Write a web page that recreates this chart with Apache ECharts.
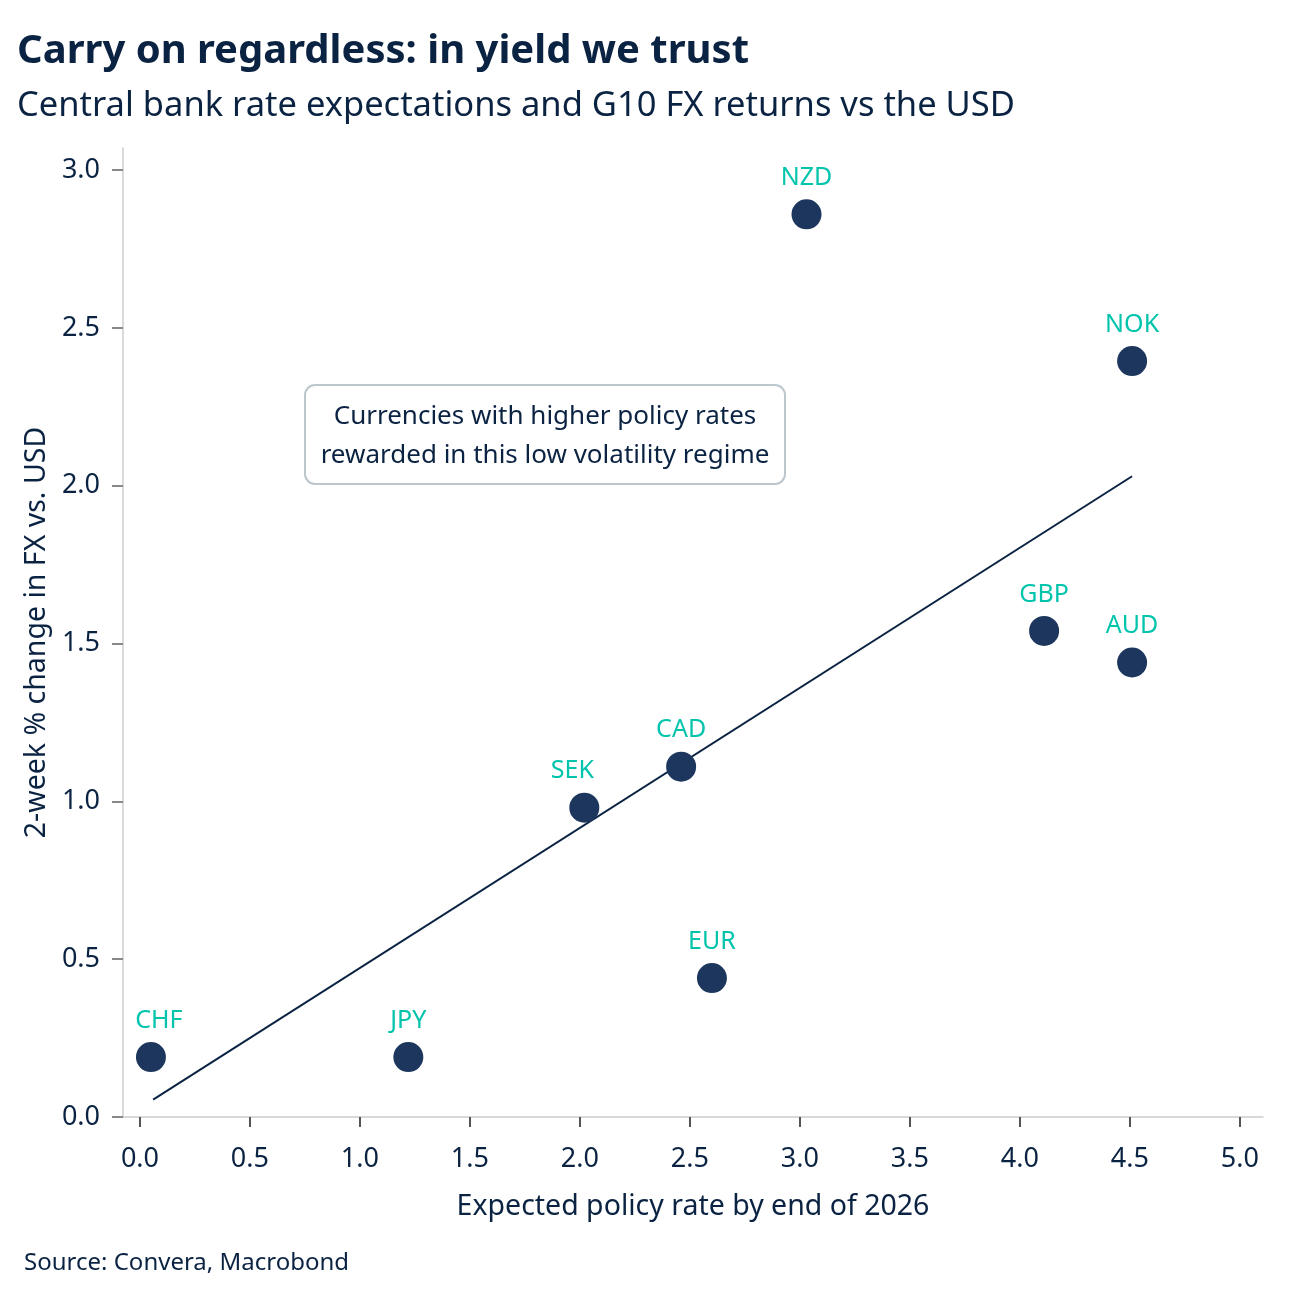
<!DOCTYPE html>
<html>
<head>
<meta charset="utf-8">
<title>Carry on regardless</title>
<script src="https://cdn.jsdelivr.net/npm/echarts@6/dist/echarts.min.js"></script>
<style>
  html, body { margin: 0; padding: 0; background: #fff; }
  #chart { width: 1299px; height: 1301px; }
</style>
</head>
<body>
<div id="chart"></div>
<script>
// currencies and their (expected policy rate, 2-week FX change vs USD)
const currencies = ['NZD', 'NOK', 'GBP', 'AUD', 'CAD', 'SEK', 'EUR', 'CHF', 'JPY']
const policyRate = [3.03, 4.51, 4.11, 4.51, 2.46, 2.02, 2.60, 0.05, 1.22]
const fxChange = [2.86, 2.395, 1.54, 1.44, 1.11, 0.98, 0.44, 0.19, 0.19]

// fitted line end points
const trendX = [0.06, 4.51]
const trendY = [0.055, 2.03]

const xTicks = [0, 0.5, 1, 1.5, 2, 2.5, 3, 3.5, 4, 4.5, 5]
const yTicks = [0, 0.5, 1, 1.5, 2, 2.5, 3]

const navy = '#0b2342'
const dot = '#1c365d'
const teal = '#00c4ac'
const font = '"Noto Sans", "Open Sans", sans-serif'

// a few labels sit a little off-centre in the original
const labelShift = { SEK: -12, CHF: 8 }

const chart = echarts.init(document.getElementById('chart'))

chart.setOption({
  backgroundColor: '#fff',
  textStyle: { fontFamily: font },
  title: [
    {
      text: 'Carry on regardless: in yield we trust',
      left: 12, top: 27,
      textStyle: { fontFamily: font, fontSize: 40, fontWeight: 'bold', color: navy }
    },
    {
      text: 'Central bank rate expectations and G10 FX returns vs the USD',
      left: 12, top: 84,
      textStyle: { fontFamily: font, fontSize: 34.5, fontWeight: 'normal', color: navy }
    },
    {
      text: 'Source: Convera, Macrobond',
      left: 19, top: 1246,
      textStyle: { fontFamily: font, fontSize: 24, fontWeight: 'normal', color: navy }
    }
  ],
  grid: { left: 123, right: 36, top: 148, bottom: 184 },
  xAxis: {
    type: 'value',
    min: -0.077, max: 5.105,
    name: 'Expected policy rate by end of 2026',
    nameLocation: 'middle',
    nameGap: 75,
    nameTextStyle: { fontSize: 28.5, color: navy, fontFamily: font },
    splitLine: { show: false },
    axisLine: { show: true, onZero: false, lineStyle: { color: '#cccccc', width: 1.5 } },
    axisTick: { show: true, length: 10, customValues: xTicks, lineStyle: { color: '#555555', width: 2 } },
    axisLabel: {
      customValues: xTicks,
      margin: 29,
      fontSize: 27,
      color: navy,
      formatter: v => v.toFixed(1)
    }
  },
  yAxis: {
    type: 'value',
    min: 0, max: 3.07,
    name: '2-week % change in FX vs. USD',
    nameLocation: 'middle',
    nameGap: 67,
    nameRotate: 90,
    nameTextStyle: { fontSize: 28.5, color: navy, fontFamily: font },
    splitLine: { show: false },
    axisLine: { show: true, onZero: false, lineStyle: { color: '#cccccc', width: 1.5 } },
    axisTick: { show: true, length: 11, customValues: yTicks, lineStyle: { color: '#888888', width: 2 } },
    axisLabel: {
      customValues: yTicks,
      margin: 23,
      fontSize: 27,
      color: navy,
      formatter: v => v.toFixed(1)
    }
  },
  series: [
    {
      type: 'line',
      data: trendX.map((x, i) => [x, trendY[i]]),
      symbol: 'none',
      lineStyle: { color: navy, width: 2 },
      silent: true,
      z: 1
    },
    {
      type: 'scatter',
      data: currencies.map((c, i) => ({
        name: c,
        value: [policyRate[i], fxChange[i]],
        label: { offset: [labelShift[c] || 0, 0] }
      })),
      symbolSize: 30,
      itemStyle: { color: dot, opacity: 1 },
      label: {
        show: true,
        position: 'top',
        distance: 9,
        formatter: p => p.name,
        fontSize: 25,
        color: teal,
        fontFamily: font
      },
      z: 3
    }
  ],
  graphic: [
    {
      type: 'rect',
      shape: { x: 305, y: 385, width: 480, height: 99, r: 10 },
      style: { fill: '#ffffff', stroke: '#bcc6cd', lineWidth: 2 },
      z: 10
    },
    {
      type: 'text',
      x: 545, y: 436,
      style: {
        text: 'Currencies with higher policy rates\nrewarded in this low volatility regime',
        fill: navy,
        font: '26px ' + font,
        align: 'center',
        verticalAlign: 'middle',
        lineHeight: 39
      },
      z: 11
    }
  ]
})
</script>
</body>
</html>
